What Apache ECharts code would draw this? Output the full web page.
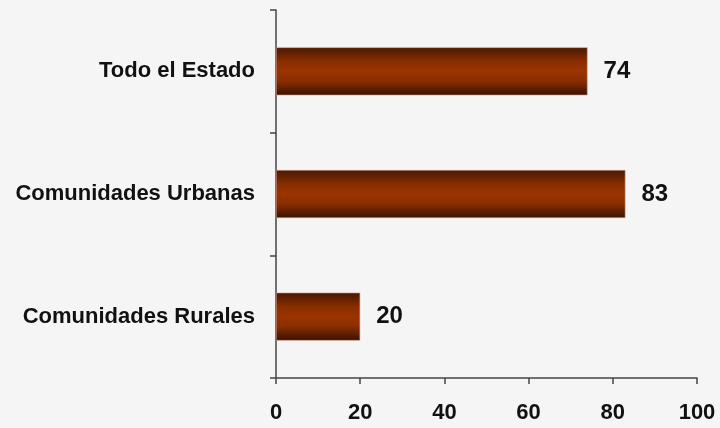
<!DOCTYPE html>
<html>
<head>
<meta charset="utf-8">
<script src="https://cdn.jsdelivr.net/npm/echarts@6/dist/echarts.min.js"></script>
<style>
  html, body { margin: 0; padding: 0; background: #f5f5f5; }
  #chart { width: 720px; height: 428px; }
</style>
</head>
<body>
<div id="chart"></div>
<script>
// Categories listed top to bottom
const categories = ['Todo el Estado', 'Comunidades Urbanas', 'Comunidades Rurales'];
const values = [74, 83, 20];
const xTicks = [0, 20, 40, 60, 80, 100];

const chart = echarts.init(document.getElementById('chart'));

const barFill = new echarts.graphic.LinearGradient(0, 0, 0, 1, [
  { offset: 0, color: '#4a1800' },
  { offset: 0.3, color: '#8a2e00' },
  { offset: 0.5, color: '#9a3400' },
  { offset: 0.7, color: '#8a2e00' },
  { offset: 1, color: '#3a1200' }
]);

const font = 'Liberation Sans, Arial, sans-serif';

chart.setOption({
  backgroundColor: '#f5f5f5',
  animation: false,
  grid: { left: 276, right: 23, top: 10, bottom: 50, containLabel: false },
  xAxis: {
    type: 'value',
    min: xTicks[0],
    max: xTicks[xTicks.length - 1],
    interval: 20,
    axisLine: { show: true, lineStyle: { color: '#444', width: 1.5 } },
    axisTick: { show: true, length: 6, lineStyle: { color: '#444', width: 1.5 } },
    splitLine: { show: false },
    axisLabel: {
      color: '#111',
      fontFamily: font,
      fontWeight: 'bold',
      fontSize: 22,
      margin: 24
    }
  },
  yAxis: {
    type: 'category',
    inverse: true,
    data: categories,
    axisLine: { show: true, lineStyle: { color: '#444', width: 1.5 } },
    axisTick: { show: true, length: 6, lineStyle: { color: '#444', width: 1.5 } },
    axisLabel: {
      color: '#111',
      fontFamily: font,
      fontWeight: 'bold',
      fontSize: 22,
      margin: 21
    }
  },
  series: [{
    type: 'bar',
    data: values,
    barWidth: 48,
    itemStyle: { color: barFill, borderColor: '#c8a090', borderWidth: 0.6 },
    label: {
      show: true,
      position: 'right',
      distance: 16,
      color: '#111',
      fontFamily: font,
      fontWeight: 'bold',
      fontSize: 24
    }
  }]
});
</script>
</body>
</html>
